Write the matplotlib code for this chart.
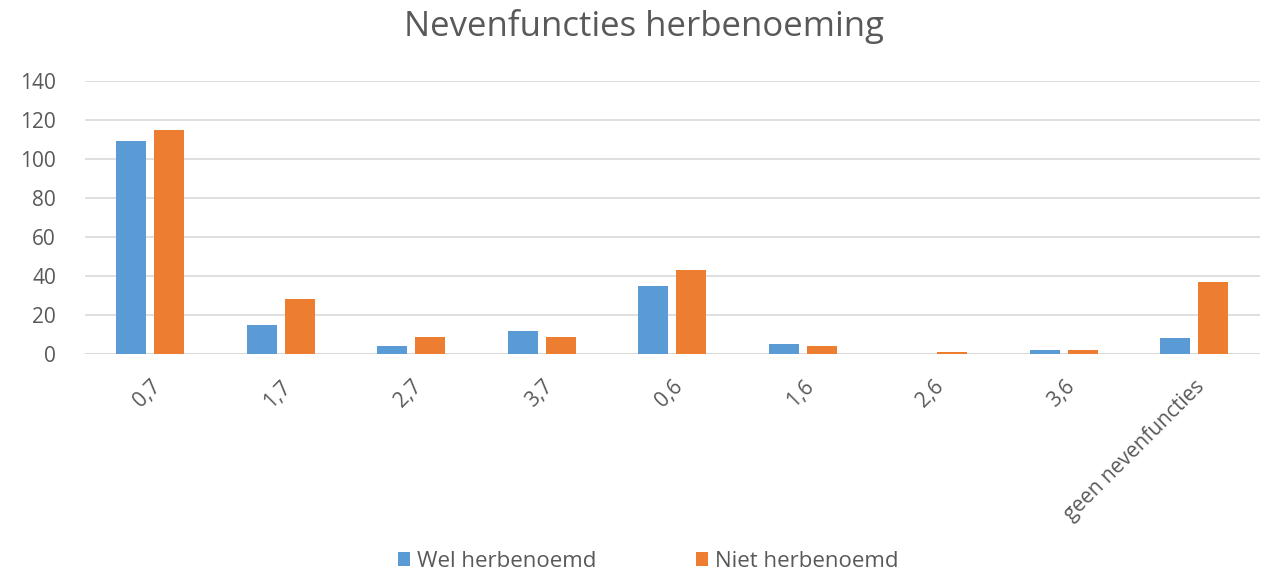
import numpy as np
import matplotlib.pyplot as plt

plt.rcParams['font.family'] = ['Open Sans', 'DejaVu Sans']

# Data
categories = ['0,7', '1,7', '2,7', '3,7', '0,6', '1,6', '2,6', '3,6', 'geen nevenfuncties']
wel_herbenoemd = [109, 15, 4, 12, 35, 5, 0, 2, 8]
niet_herbenoemd = [115, 28, 9, 9, 43, 4, 1, 2, 37]

blue = '#5B9BD5'
orange = '#ED7D31'
text_col = '#595959'

fig = plt.figure(figsize=(12.71, 5.73), dpi=100)
ax = fig.add_axes([0.067, 0.382, 0.924, 0.477])

x = np.arange(len(categories))
w = 0.23
ax.bar(x - 0.145, wel_herbenoemd, w, color=blue, label='Wel herbenoemd')
ax.bar(x + 0.145, niet_herbenoemd, w, color=orange, label='Niet herbenoemd')

ax.set_xlim(-0.5, len(categories) - 0.5)
ax.set_ylim(0, 140)
ax.set_yticks(range(0, 141, 20))
ax.yaxis.grid(True, color='#D9D9D9', linewidth=1.2)
ax.set_axisbelow(True)
for s in ax.spines.values():
    s.set_visible(False)
ax.axhline(0, color='#D9D9D9', linewidth=1.2, zorder=0)

ax.set_xticks(x)
ax.set_xticklabels(categories, rotation=45, ha='right', rotation_mode='anchor',
                   fontsize=15, color=text_col)
ax.tick_params(axis='x', length=0, pad=16)
ax.tick_params(axis='y', length=0, labelsize=15, labelcolor=text_col, pad=21)

fig.text(0.507, 0.953, 'Nevenfuncties herbenoeming', ha='center', va='center',
         fontsize=25, color=text_col)

fig.legend(loc='center', bbox_to_anchor=(0.51, 0.02), ncol=2, frameon=False,
           fontsize=16, labelcolor=text_col, handlelength=0.55, handleheight=0.55,
           handletextpad=0.3, columnspacing=4.5)

fig.savefig('out.png', dpi=100)
